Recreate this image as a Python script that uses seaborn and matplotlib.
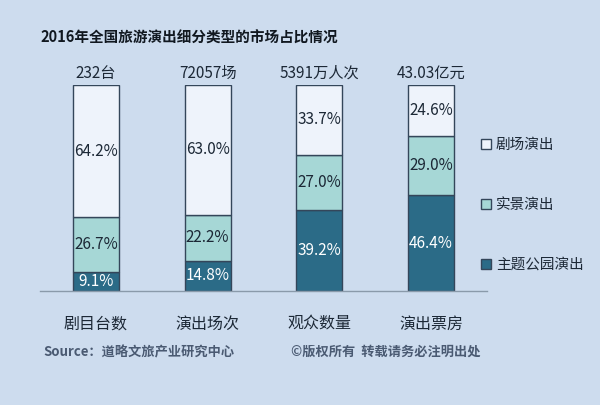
import matplotlib
matplotlib.use("Agg")
import matplotlib.pyplot as plt
import seaborn as sns
import numpy as np
import pandas as pd
from matplotlib.patches import Patch

categories = ["剧目台数", "演出场次", "观众数量", "演出票房"]
totals = ["232台", "72057场", "5391万人次", "43.03亿元"]
theme_park = [9.1, 14.8, 39.2, 46.4]
real_scene = [26.7, 22.2, 27.0, 29.0]
theater = [64.2, 63.0, 33.7, 24.6]
series_names = ["剧场演出", "实景演出", "主题公园演出"]

sns.set_theme(style="white")
plt.rcParams['font.family'] = ['Noto Sans CJK SC', 'DejaVu Sans']

BG = "#cddcee"
C_DARK = "#2b6b87"
C_TEAL = "#a6d7d6"
C_LIGHT = "#eef3fb"
EDGE = "#34465a"
TXT = "#1c2836"

fig = plt.figure(figsize=(6, 4.05), dpi=100, facecolor=BG)
ax = fig.add_axes([40/600, 1-291/405, (487-40)/600, (291-85)/405])
ax.set_facecolor(BG)

df = pd.DataFrame({"cat": categories, "tp": theme_park, "rs": real_scene, "th": theater})
b2 = np.array(theme_park)
b3 = b2 + np.array(real_scene)

sns.barplot(data=df, x="cat", y="tp", color=C_DARK, saturation=1, width=0.41,
            edgecolor=EDGE, linewidth=1, ax=ax)
sns.barplot(data=df, x="cat", y="rs", color=C_TEAL, saturation=1, width=0.41,
            edgecolor=EDGE, linewidth=1, bottom=b2, ax=ax)
sns.barplot(data=df, x="cat", y="th", color=C_LIGHT, saturation=1, width=0.41,
            edgecolor=EDGE, linewidth=1, bottom=b3, ax=ax)

for i in range(len(categories)):
    ax.text(i, theme_park[i] / 2, f"{theme_park[i]:.1f}%", ha="center", va="center",
            color="white", fontsize=11)
    ax.text(i, b2[i] + real_scene[i] / 2, f"{real_scene[i]:.1f}%", ha="center", va="center",
            color=TXT, fontsize=11)
    ax.text(i, b3[i] + theater[i] / 2, f"{theater[i]:.1f}%", ha="center", va="center",
            color=TXT, fontsize=11)
    ax.text(i, 100 + 1.5, totals[i], ha="center", va="bottom", color=TXT, fontsize=11)

ax.set_xlim(-0.5, 3.5)
ax.set_ylim(0, 100)
ax.set_xlabel("")
ax.set_ylabel("")
ax.set_yticks([])
for s in ["top", "right", "left"]:
    ax.spines[s].set_visible(False)
ax.spines["bottom"].set_color("#8a9aaa")
ax.spines["bottom"].set_linewidth(1)
ax.set_xticks(np.arange(-0.5, 4.0, 1.0), minor=True)
ax.tick_params(axis="x", which="minor", length=5, color="#8a9aaa", width=1, direction="out")
ax.tick_params(axis="x", which="major", length=0, pad=18, labelsize=11.5, labelcolor=TXT)

handles = [Patch(facecolor=C_LIGHT, edgecolor=EDGE, label=series_names[0]),
           Patch(facecolor=C_TEAL, edgecolor=EDGE, label=series_names[1]),
           Patch(facecolor=C_DARK, edgecolor=EDGE, label=series_names[2])]
leg = fig.legend(handles=handles, loc="upper left", bbox_to_anchor=(468/600, 1-125/405),
                 frameon=False, fontsize=10.5, labelspacing=3.15, handlelength=0.7,
                 handleheight=0.7, handletextpad=0.3, labelcolor=TXT)

fig.text(40/600, 1-38/405, "2016年全国旅游演出细分类型的市场占比情况", fontsize=10.5,
         fontweight="bold", color="#111820", va="center", ha="left")
fig.text(43/600, 1-352/405, "Source：道略文旅产业研究中心", fontsize=9.5,
         fontweight="bold", color="#4a5a72", va="center", ha="left")
fig.text(291/600, 1-352/405, "©版权所有  转载请务必注明出处", fontsize=9.5,
         fontweight="bold", color="#4a5a72", va="center", ha="left")

fig.savefig("out.png", dpi=100, facecolor=BG)
